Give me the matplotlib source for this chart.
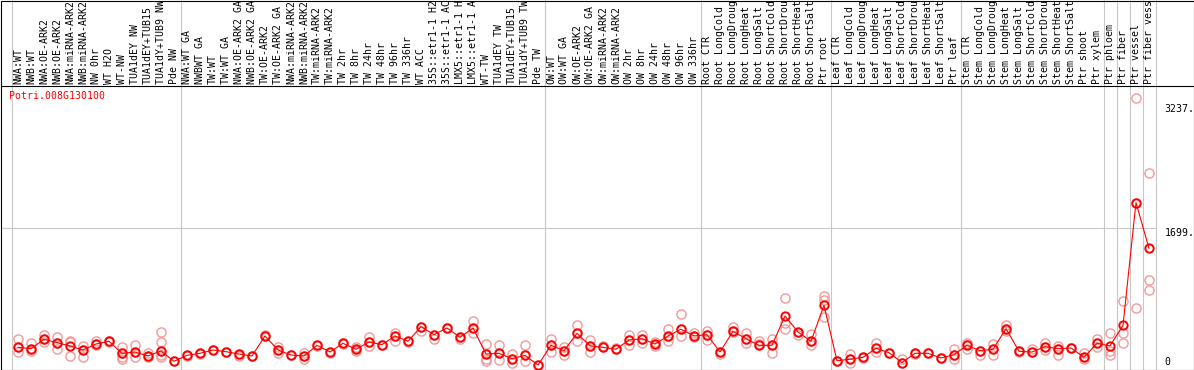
import numpy as np
import matplotlib
matplotlib.use('Agg')
from matplotlib import pyplot as plt
from matplotlib.transforms import blended_transform_factory
from matplotlib.patches import Rectangle

# sample names, one per column
labels = [
    'NWA:WT', 'NWB:WT', 'NWA:OE-ARK2', 'NWB:OE-ARK2', 'NWA:miRNA-ARK2',
    'NWB:miRNA-ARK2', 'NW 0hr', 'WT H2O', 'WT-NW', 'TUA1dEY NW',
    'TUA1dEY+TUB15 NW', 'TUA1dY+TUB9 NW', 'Pde NW',
    'NWA:WT GA', 'NWBWT GA', 'TW:WT', 'TW:WT GA', 'NWA:OE-ARK2 GA',
    'NWB:OE-ARK2 GA', 'TW:OE-ARK2', 'TW:OE-ARK2 GA', 'NWA:miRNA-ARK2 GA',
    'NWB:miRNA-ARK2 GA', 'TW:miRNA-ARK2', 'TW:miRNA-ARK2 GA', 'TW 2hr',
    'TW 8hr', 'TW 24hr', 'TW 48hr', 'TW 96hr', 'TW 336hr', 'WT ACC',
    '35S::etr1-1 H2O', '35S::etr1-1 ACC', 'LMX5::etr1-1 H2O',
    'LMX5::etr1-1 ACC', 'WT-TW', 'TUA1dEY TW', 'TUA1dEY+TUB15 TW',
    'TUA1dY+TUB9 TW', 'Pde TW',
    'OW:WT', 'OW:WT GA', 'OW:OE-ARK2', 'OW:OE-ARK2 GA', 'OW:miRNA-ARK2',
    'OW:miRNA-ARK2 GA', 'OW 2hr', 'OW 8hr', 'OW 24hr', 'OW 48hr', 'OW 96hr',
    'OW 336hr',
    'Root CTR', 'Root LongCold', 'Root LongDrought', 'Root LongHeat',
    'Root LongSalt', 'Root ShortCold', 'Root ShortDrought', 'Root ShortHeat',
    'Root ShortSalt', 'Ptr root',
    'Leaf CTR', 'Leaf LongCold', 'Leaf LongDrought', 'Leaf LongHeat',
    'Leaf LongSalt', 'Leaf ShortCold', 'Leaf ShortDrought', 'Leaf ShortHeat',
    'Leaf ShortSalt', 'Ptr leaf',
    'Stem CTR', 'Stem LongCold', 'Stem LongDrought', 'Stem LongHeat',
    'Stem LongSalt', 'Stem ShortCold', 'Stem ShortDrought', 'Stem ShortHeat',
    'Stem ShortSalt', 'Ptr shoot', 'Ptr xylem',
    'Ptr phloem', 'Ptr fiber', 'Ptr vessel', 'Ptr fiber vessel',
]

# mean expression per sample
means = [219, 202, 319, 277, 236, 186, 260, 294, 145, 161, 112, 174, 46,
         120, 145, 186, 165, 136, 112, 360, 186, 124, 112, 244, 161, 269,
         195, 285, 252, 360, 294, 475, 376, 459, 343, 459, 136, 145, 78,
         120, 0,
         244, 177, 393, 236, 219, 195, 310, 326, 260, 360, 443, 360,
         376, 161, 418, 326, 244, 244, 608, 409, 294, 740,
         53, 71, 95, 207, 153, 29, 145, 145, 87, 128,
         244, 177, 195, 450, 170, 161, 227, 202, 211, 95, 269,
         236, 492, 2013, 1447]

# replicate values per sample
reps = [
    [319, 219, 165], [269, 202, 177], [376, 319, 285], [343, 277, 202],
    [301, 285, 112], [236, 186, 95], [294, 260, 244], [301, 294, 287],
    [219, 145, 95, 71], [244, 161, 95], [153, 112, 95],
    [409, 285, 174, 120, 95], [46],
    [120, 115], [145, 140], [186, 180], [165, 160], [136, 112], [112, 108],
    [368, 360], [219, 186, 145], [124, 118], [145, 112, 78], [244, 240],
    [161, 155], [269, 262], [219, 195, 170], [343, 285, 236], [252, 248],
    [401, 360, 301], [294, 290], [475, 418], [376, 319], [459, 455],
    [343, 319], [549, 459, 401], [260, 136, 71, 46], [244, 145, 62],
    [136, 78, 21], [244, 120, 46], [0],
    [319, 244, 161], [219, 177, 128], [492, 393, 301], [310, 236, 161],
    [236, 219], [211, 195], [368, 310, 244], [376, 326, 269],
    [285, 260, 236], [450, 360, 294], [632, 443, 360], [401, 360, 343],
    [418, 376, 310], [161, 136], [467, 418, 409], [393, 326, 277],
    [294, 260, 244], [326, 244, 145], [831, 517, 443], [409, 376],
    [384, 294, 252], [856, 806, 599],
    [53, 50], [136, 71, 21], [95, 90], [277, 207, 161], [153, 150],
    [71, 29], [145, 140], [145, 150], [87, 92], [202, 128, 78],
    [277, 244, 202], [177, 128], [260, 195, 128], [500, 450, 418],
    [170, 165], [195, 161], [269, 227, 186], [236, 202, 120], [211, 205],
    [145, 95, 71], [326, 269, 227],
    [393, 177, 120], [790, 401, 269], [3307, 2013, 711], [2377, 1050, 926],
]

gene = 'Potri.008G130100'
ytick_vals = [3237, 1699, 0]
ytick_text = ['3237.', '1699.', '0']
group_edges = [0, 13, 41, 53, 63, 73, 84, 85, 86, 87, 88]

W, H = 1194, 370
mono = 'DejaVu Sans Mono'
fs = 7.1
grid_c = '#c8c8c8'
pink = '#f29a9a'
max_chars = 14  # the label strip only holds 14 characters

fig = plt.figure(figsize=(W / 100, H / 100), dpi=100)
fig.patch.set_facecolor('white')
# plot area: 283 px tall under the label strip
ax = fig.add_axes([0.5 / W, 1 / H, 1193 / W, 283 / H])
ax.set_xlim(-11 / 13, 1182 / 13)
ax.set_ylim(-4 * 12.4, 279 * 12.4)
ax.set_xticks([])
ax.set_yticks([])
for s in ['left', 'right', 'bottom']:
    ax.spines[s].set_visible(False)
ax.spines['top'].set_linewidth(0.8)

x = np.arange(len(means)) + 0.5
rx = np.concatenate([[xi] * len(r) for xi, r in zip(x, reps)])
ry = np.concatenate(reps)

# grid lines
for b in group_edges:
    ax.axvline(b, ymin=0, ymax=369 / 283, color=grid_c, lw=0.8,
               clip_on=False, zorder=0)
ax.hlines(ytick_vals[1], -11 / 13, 88, color=grid_c, lw=0.8, zorder=0)

# replicates, then mean line
ax.plot(rx, ry, 'o', mfc='none', mec=pink, ms=6.6, mew=1.0, zorder=2,
        clip_on=False)
ax.plot(x, means, '-', color='red', lw=0.8, zorder=3)
ax.plot(x, means, 'o', mfc='none', mec='red', ms=6.0, mew=1.4, zorder=4,
        clip_on=False)

# column labels in the strip above
trans = blended_transform_factory(ax.transData, ax.transAxes)
for xi, lab in zip(x, labels):
    ax.text(xi, 1 + 1.8 / 283, lab[:max_chars].rstrip(), transform=trans,
            rotation=90, ha='center', va='bottom', fontsize=fs, family=mono)

ax.text(9 / 1193, (369 - 96) / 283, gene, transform=ax.transAxes,
        color='red', ha='left', va='center', fontsize=fs, family=mono)

for v, t in zip(ytick_vals, ytick_text):
    ax.text(88.7, v, t, ha='left', va='baseline' if v == 0 else 'top',
            fontsize=fs, family=mono)

# outer frame
fig.add_artist(Rectangle((0.5 / W, 0.5 / H), 1193 / W, 368.5 / H,
                         transform=fig.transFigure, fill=False,
                         ec='black', lw=0.8, zorder=10))

fig.savefig('out.png', dpi=100)
